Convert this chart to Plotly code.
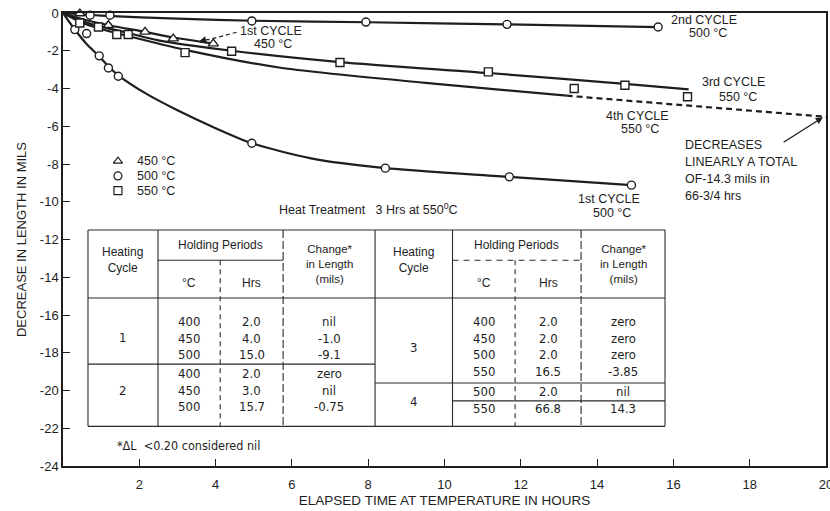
import plotly.graph_objects as go

# ---------------- data ----------------
# 2nd cycle, 500 C
c2_500_line_x = [0, 1.0, 3.0, 5.0, 8.0, 11.6, 15.6]
c2_500_line_y = [0, -0.14, -0.30, -0.41, -0.49, -0.60, -0.75]
c2_500_pts_x = [0.71, 1.23, 4.95, 7.94, 11.64, 15.6]
c2_500_pts_y = [-0.12, -0.12, -0.42, -0.48, -0.60, -0.74]

# 1st cycle, 450 C
c1_450_line_x = [0, 0.5, 1.2, 2.15, 2.9, 3.95]
c1_450_line_y = [0, -0.32, -0.65, -1.00, -1.30, -1.62]
c1_450_pts_x = [0.44, 1.19, 2.15, 2.89, 3.94]
c1_450_pts_y = [-0.03, -0.65, -1.00, -1.36, -1.62]

# 3rd cycle, 550 C
c3_550_line_x = [0, 0.5, 1.0, 1.6, 2.5, 4.42, 7.26, 11.15, 14.73, 16.4]
c3_550_line_y = [0, -0.42, -0.72, -1.00, -1.45, -2.00, -2.60, -3.18, -3.75, -4.05]
c3_550_pts_x = [0.44, 0.93, 1.71, 4.42, 7.26, 11.15, 14.73, 16.37]
c3_550_pts_y = [-0.53, -0.74, -1.14, -2.03, -2.62, -3.12, -3.83, -4.44]

# 4th cycle, 550 C (solid part, then dashed linear extension)
c4_550_line_x = [0, 0.5, 1.0, 1.7, 3.2, 5.7, 9.5, 13.2]
c4_550_line_y = [0, -0.52, -0.85, -1.22, -1.95, -2.90, -3.70, -4.38]
c4_550_ext_x = [13.2, 20.0]
c4_550_ext_y = [-4.38, -5.50]
c4_550_pts_x = [1.41, 3.2, 13.4]
c4_550_pts_y = [-1.14, -2.10, -4.00]

# 1st cycle, 500 C
c1_500_line_x = [0, 0.3, 0.6, 0.95, 1.2, 1.45, 2.2, 3.0, 4.0, 4.95, 6.5, 8.45, 11.7, 14.9]
c1_500_line_y = [0, -0.85, -1.60, -2.30, -2.85, -3.30, -4.30, -5.15, -6.10, -6.90, -7.70, -8.22, -8.68, -9.12]
c1_500_pts_x = [0.31, 0.62, 0.95, 1.19, 1.45, 4.95, 8.45, 11.7, 14.9]
c1_500_pts_y = [-0.88, -1.09, -2.27, -2.91, -3.35, -6.90, -8.22, -8.68, -9.12]

# axis ticks
x_tick_vals = [2, 4, 6, 8, 10, 12, 14, 16, 18, 20]
y_tick_vals = [0, -2, -4, -6, -8, -10, -12, -14, -16, -18, -20, -22, -24]
y_tick_text = ["0", "-2", "-4", "-6", "-8", "-10", "-12", "-14", "-16", "-18", "-20", "-22", "-24"]

# legend
legend_labels = ["450 \u00b0C", "500 \u00b0C", "550 \u00b0C"]
legend_symbols = ["triangle-up", "circle", "square"]

# table content
table_header_cycle = "Heating<br>Cycle"
table_header_hold = "Holding Periods"
table_header_temp = "\u00b0C"
table_header_hrs = "Hrs"
table_header_change = "Change*<br>in Length<br>(mils)"
cycle1_temp = ["400", "450", "500"]
cycle1_hrs = ["2.0", "4.0", "15.0"]
cycle1_change = ["nil", "-1.0", "-9.1"]
cycle2_temp = ["400", "450", "500"]
cycle2_hrs = ["2.0", "3.0", "15.7"]
cycle2_change = ["zero", "nil", "-0.75"]
cycle3_temp = ["400", "450", "500", "550"]
cycle3_hrs = ["2.0", "2.0", "2.0", "16.5"]
cycle3_change = ["zero", "zero", "zero", "-3.85"]
cycle4_temp = ["500", "550"]
cycle4_hrs = ["2.0", "66.8"]
cycle4_change = ["nil", "14.3"]

INK = "#1e1e1e"
LINE_W = 2.2

fig = go.Figure()


def add_line(xs, ys, dash="solid"):
    fig.add_trace(go.Scatter(x=xs, y=ys, mode="lines",
                             line=dict(color=INK, width=LINE_W, shape="spline",
                                       smoothing=0.7, dash=dash),
                             hoverinfo="skip", showlegend=False, cliponaxis=False))


def add_pts(xs, ys, symbol, size):
    fig.add_trace(go.Scatter(x=xs, y=ys, mode="markers",
                             marker=dict(symbol=symbol, size=size, color="white",
                                         line=dict(color=INK, width=1.4)),
                             showlegend=False, cliponaxis=False))


add_line(c2_500_line_x, c2_500_line_y)
add_line(c1_450_line_x, c1_450_line_y)
add_line(c3_550_line_x, c3_550_line_y)
add_line(c4_550_line_x, c4_550_line_y)
fig.add_trace(go.Scatter(x=c4_550_ext_x, y=c4_550_ext_y, mode="lines",
                         line=dict(color=INK, width=LINE_W, dash="6px,4px"),
                         hoverinfo="skip", showlegend=False, cliponaxis=False))
add_line(c1_500_line_x, c1_500_line_y)

add_pts(c2_500_pts_x, c2_500_pts_y, "circle", 8)
add_pts(c1_500_pts_x, c1_500_pts_y, "circle", 8)
add_pts(c1_450_pts_x, c1_450_pts_y, "triangle-up", 9)
add_pts(c3_550_pts_x, c3_550_pts_y, "square", 8)
add_pts(c4_550_pts_x, c4_550_pts_y, "square", 8)

# legend marks (drawn as points at the legend block position)
leg_x = 1.44
leg_y0 = -7.85
leg_dy = 0.78
fig.add_trace(go.Scatter(
    x=[leg_x] * len(legend_labels),
    y=[leg_y0 - i * leg_dy for i in range(len(legend_labels))],
    mode="markers",
    marker=dict(symbol=[s + "-open" for s in legend_symbols], size=8,
                color=INK, line=dict(width=1.2)),
    showlegend=False, cliponaxis=False, hoverinfo="skip"))

annotations = []
shapes = []

SANS = "Liberation Sans, Arial, Helvetica, sans-serif"
NARROW = "Liberation Sans Narrow, Arial Narrow, DejaVu Sans Condensed, sans-serif"


def txt(x, y, t, size=12.5, anchor="center", family=SANS):
    annotations.append(dict(x=x, y=y, xref="x", yref="y", text=t, showarrow=False,
                            xanchor=anchor, yanchor="middle",
                            font=dict(size=size, family=family, color=INK)))


for i, lab in enumerate(legend_labels):
    txt(leg_x + 0.45, leg_y0 - i * leg_dy, lab, size=12.5, anchor="left")

# curve labels
txt(5.45, -0.95, "1st CYCLE")
txt(5.5, -1.64, "450 \u00b0C")
txt(16.8, -0.37, "2nd CYCLE")
txt(16.9, -1.07, "500 \u00b0C")
txt(17.58, -3.63, "3rd CYCLE")
txt(17.7, -4.44, "550 \u00b0C")
txt(15.05, -5.45, "4th CYCLE")
txt(15.12, -6.17, "550 \u00b0C")
txt(14.3, -9.84, "1st CYCLE")
txt(14.4, -10.58, "500 \u00b0C")
for k, line in enumerate(["DECREASES", "LINEARLY A TOTAL", "OF-14.3 mils in", "66-3/4 hrs"]):
    txt(16.25, -7.0 - k * 0.9, line, anchor="left")

# leader for 1st cycle 450 (dashed) + arrow head
shapes.append(dict(type="line", xref="x", yref="y", x0=4.55, y0=-1.02, x1=3.8, y1=-1.42,
                   line=dict(color=INK, width=1.2, dash="4px,3px")))
annotations.append(dict(x=3.55, y=-1.53, ax=3.85, ay=-1.38, xref="x", yref="y",
                        axref="x", ayref="y", text="", showarrow=True, arrowhead=2,
                        arrowsize=1.2, arrowwidth=1.3, arrowcolor=INK))
# arrow for the 4th-cycle extension note
annotations.append(dict(x=19.92, y=-5.52, ax=18.85, ay=-6.9, xref="x", yref="y",
                        axref="x", ayref="y", text="", showarrow=True, arrowhead=2,
                        arrowsize=1.1, arrowwidth=1.3, arrowcolor=INK))

# ---------------- table ----------------
txt(8.0, -10.4, "Heat Treatment   3 Hrs at 550<sup>0</sup>C", size=12.5)

T_TOP, T_SUB, T_HEAD, T_BOT = -11.5, -13.1, -15.1, -21.9
L_COLS = [0.655, 2.49, 4.12, 5.77, 8.18]
R_COLS = [8.18, 10.21, 11.85, 13.58, 15.78]
BORDER = dict(color="#2a2a2a", width=1.1)


def hline(x0, x1, y, dash="solid"):
    shapes.append(dict(type="line", xref="x", yref="y", x0=x0, x1=x1, y0=y, y1=y,
                       line=dict(color=BORDER["color"], width=BORDER["width"], dash=dash)))


def vline(x, y0, y1, dash="solid"):
    shapes.append(dict(type="line", xref="x", yref="y", x0=x, x1=x, y0=y0, y1=y1,
                       line=dict(color=BORDER["color"], width=BORDER["width"], dash=dash)))


hline(L_COLS[0], R_COLS[-1], T_TOP)
hline(L_COLS[0], R_COLS[-1], T_HEAD)
hline(L_COLS[0], R_COLS[-1], T_BOT)
hline(L_COLS[1], L_COLS[3], T_SUB)
hline(R_COLS[1], R_COLS[3], T_SUB, dash="6px,5px")
hline(L_COLS[0], L_COLS[4], -18.6)
hline(R_COLS[0], R_COLS[-1], -19.6)
hline(R_COLS[1], R_COLS[-1], -20.55)
for cols in (L_COLS, R_COLS):
    vline(cols[0], T_TOP, T_BOT)
    vline(cols[1], T_TOP, T_BOT)
    vline(cols[2], T_SUB, T_BOT, dash="5px,4px")
    vline(cols[3], T_TOP, T_BOT, dash="8px,3px")
vline(R_COLS[4], T_TOP, T_BOT)


def header(cols):
    txt((cols[0] + cols[1]) / 2, -13.1, table_header_cycle, size=12)
    txt((cols[1] + cols[3]) / 2, -12.3, table_header_hold, size=12)
    txt((cols[1] + cols[2]) / 2, -14.3, table_header_temp, size=12)
    txt((cols[2] + cols[3]) / 2, -14.3, table_header_hrs, size=12)
    txt((cols[3] + cols[4]) / 2, -13.3, table_header_change, size=11.5)


header(L_COLS)
header(R_COLS)

ROW_DY = 0.88


def rows(cols, y0, cyc, temps, hrs, chg, cyc_y):
    txt((cols[0] + cols[1]) / 2, cyc_y, cyc, size=13, family=NARROW)
    for i in range(len(temps)):
        y = y0 - i * ROW_DY
        txt((cols[1] + cols[2]) / 2, y, temps[i], size=13, family=NARROW)
        txt((cols[2] + cols[3]) / 2, y, hrs[i], size=13, family=NARROW)
        txt((cols[3] + cols[4]) / 2, y, chg[i], size=13, family=NARROW)


rows(L_COLS, -16.35, "1", cycle1_temp, cycle1_hrs, cycle1_change, -17.2)
rows(L_COLS, -19.1, "2", cycle2_temp, cycle2_hrs, cycle2_change, -20.0)
rows(R_COLS, -16.35, "3", cycle3_temp, cycle3_hrs, cycle3_change, -17.7)
rows(R_COLS, -20.07, "4", cycle4_temp, cycle4_hrs, cycle4_change, -20.6)

annotations.append(dict(x=1.36, y=-22.9, xref="x", yref="y", showarrow=False,
                        xanchor="left", yanchor="middle",
                        text="*\u0394L  <0.20 considered nil",
                        font=dict(size=12.5, family=NARROW, color=INK)))

fig.update_layout(
    width=830, height=511,
    margin=dict(l=63, r=4, t=13, b=45, autoexpand=False),
    plot_bgcolor="white", paper_bgcolor="white",
    showlegend=False,
    font=dict(family=SANS, color=INK, size=13),
    annotations=annotations, shapes=shapes,
    xaxis=dict(range=[0, 20], tickvals=x_tick_vals, ticks="inside", ticklen=7,
               tickwidth=1.3, tickcolor=INK, showline=True, linecolor=INK, linewidth=1.5,
               mirror=True, showgrid=False, zeroline=False, automargin=False,
               ticklabeloverflow="allow", ticklabelstandoff=6,
               tickfont=dict(size=13, family=SANS, color=INK),
               title=dict(text="ELAPSED TIME AT TEMPERATURE IN HOURS",
                          font=dict(size=13.5, family=SANS, color=INK), standoff=4)),
    yaxis=dict(range=[-24, 0], tickvals=y_tick_vals, ticktext=y_tick_text,
               ticks="inside", ticklen=7, tickwidth=1.3, tickcolor=INK,
               showline=True, linecolor=INK, linewidth=1.5, mirror=True,
               showgrid=False, zeroline=False, automargin=False,
               ticklabeloverflow="allow",
               tickfont=dict(size=13, family=SANS, color=INK),
               title=dict(text="DECREASE IN LENGTH IN MILS",
                          font=dict(size=13, family=SANS, color=INK), standoff=10)),
)

fig.write_html("out.html")
